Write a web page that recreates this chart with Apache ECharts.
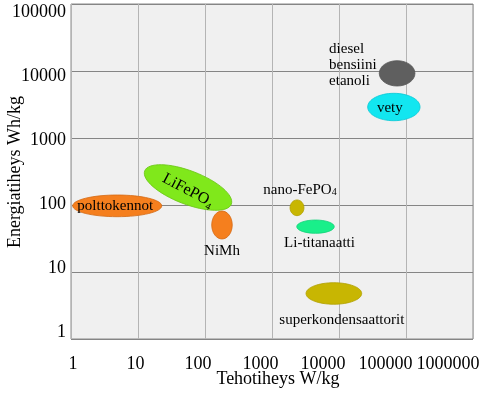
<!DOCTYPE html>
<html>
<head>
<meta charset="utf-8">
<script src="https://cdn.jsdelivr.net/npm/echarts@6/dist/echarts.min.js"></script>
<style>html,body{margin:0;padding:0;background:#fff;}#c{width:480px;height:396px;}</style>
</head>
<body>
<div id="c"></div>
<script>
// ---- data ----
const names = ['polttokennot', 'LiFePO4', 'NiMh', 'nano-FePO4', 'Li-titanaatti', 'superkondensaattorit', 'diesel\nbensiini\netanoli', 'vety'];
const powerLow  = [1.06, 12.6, 126, 1860, 2340, 3220, 39900, 26800];   // W/kg
const powerHigh = [22.6, 247, 255, 3000, 8500, 21800, 136000, 162000];
const energyLow  = [66.9, 103, 31.1, 69.3, 37.8, 3.3, 5970, 1812];    // Wh/kg
const energyHigh = [141, 323, 81.3, 119, 59.7, 6.92, 14250, 4645];
const xTickLabels = ['1', '10', '100', '1000', '10000', '100000', '1000000'];
const yTickLabels = ['1', '10', '100', '1000', '10000', '100000'];

// ---- styles ----
const FONT = "'Liberation Serif','Times New Roman',serif";
const styles = [
  {fill: '#f57f1e', stroke: '#d46812', label: '{n|polttokennot}', dx: -2, dy: 0},
  {fill: '#80e81b', stroke: '#6cc817', label: '{b|LiFePO}{s|4}', dx: 0, dy: 3, diag: true, ratio: 0.36, textRot: 28},
  {fill: '#f57f1e', stroke: '#d46812', label: '{n|NiMh}', dx: 0, dy: 26},
  {fill: '#c8b602', stroke: '#b0a000', label: '{n|nano-FePO}{s|4}', dx: 3, dy: -18},
  {fill: '#19ef8a', stroke: '#12d078', label: '{n|Li-titanaatti}', dx: 4, dy: 16},
  {fill: '#c8b602', stroke: '#b0a000', label: '{n|superkondensaattorit}', dx: 8, dy: 27},
  {fill: '#5f5f5f', stroke: '#555555', label: '{n|diesel}\n{n|bensiini}\n{n|etanoli}', dx: -68, dy: -8, align: 'left'},
  {fill: '#12e6f0', stroke: '#0cc8d4', label: '{n|vety}', dx: -4, dy: 1}
];

const seriesData = names.map((n, i) => [powerLow[i], powerHigh[i], energyLow[i], energyHigh[i]]);

function renderItem(params, api) {
  const i = params.dataIndex;
  const st = styles[i];
  const xl = api.value(0), xh = api.value(1), yl = api.value(2), yh = api.value(3);
  let cx, cy, rx, ry, rot = 0;
  if (st.diag) {
    const A = api.coord([xl, yh]);
    const B = api.coord([xh, yl]);
    cx = (A[0] + B[0]) / 2; cy = (A[1] + B[1]) / 2;
    const dx = B[0] - A[0], dy = B[1] - A[1];
    rx = Math.sqrt(dx * dx + dy * dy) / 2;
    ry = rx * st.ratio;
    rot = -Math.atan2(dy, dx);
  } else {
    const P1 = api.coord([xl, yl]);
    const P2 = api.coord([xh, yh]);
    cx = (P1[0] + P2[0]) / 2; cy = (P1[1] + P2[1]) / 2;
    rx = Math.abs(P2[0] - P1[0]) / 2;
    ry = Math.abs(P1[1] - P2[1]) / 2;
  }
  return {
    type: 'group',
    children: [
      {
        type: 'ellipse',
        x: cx, y: cy, rotation: rot,
        shape: {cx: 0, cy: 0, rx: rx, ry: ry},
        style: {fill: st.fill, stroke: st.stroke, lineWidth: 0.8}
      },
      {
        type: 'text',
        x: cx + st.dx, y: cy + st.dy,
        rotation: st.textRot ? -st.textRot * Math.PI / 180 : 0,
        style: {
          text: st.label,
          align: st.align || 'center',
          verticalAlign: 'middle',
          fill: '#000',
          rich: {
            n: {fontSize: 15, fontFamily: FONT, color: '#111', lineHeight: 16},
            b: {fontSize: 16, fontFamily: FONT, color: '#111', lineHeight: 20},
            s: {fontSize: 10, fontFamily: FONT, color: '#111', lineHeight: 12, verticalAlign: 'bottom'}
          }
        }
      }
    ]
  };
}

const chart = echarts.init(document.getElementById('c'), null, {renderer: 'canvas'});
chart.setOption({
  animation: false,
  backgroundColor: '#ffffff',
  grid: [
    {left: 71, right: 7, top: 4, bottom: 57, show: true, backgroundColor: '#f0f0f0', borderColor: '#8a8a8a', borderWidth: 1, outerBoundsMode: 'none', containLabel: false},
    {left: 73, width: 375, top: 4, bottom: 57, outerBoundsMode: 'none', containLabel: false},
    {left: 71, right: 7, top: 12, bottom: 64, outerBoundsMode: 'none', containLabel: false}
  ],
  xAxis: [
    {
      type: 'log', logBase: 10, min: 1, max: 1000000, gridIndex: 0,
      axisLine: {show: false}, axisTick: {show: false}, axisLabel: {show: false},
      splitLine: {show: true, lineStyle: {color: '#b4b4b4', width: 1}}
    },
    {
      type: 'log', logBase: 10, min: 1, max: 1000000, gridIndex: 1,
      axisLine: {show: false}, axisTick: {show: false}, splitLine: {show: false},
      axisLabel: {
        show: true, margin: 16, color: '#000', fontSize: 18, fontFamily: FONT,
        formatter: v => xTickLabels[Math.round(Math.log10(v))]
      },
      name: 'Tehotiheys W/kg', nameLocation: 'middle', nameGap: 31, nameMoveOverlap: false,
      nameTextStyle: {color: '#000', fontSize: 18, fontFamily: FONT, padding: [0, 0, 0, 35]}
    },
    {type: 'log', min: 1, max: 1000000, gridIndex: 2, show: false}
  ],
  yAxis: [
    {
      type: 'log', logBase: 10, min: 1, max: 100000, gridIndex: 0,
      axisLine: {show: false}, axisTick: {show: false}, axisLabel: {show: false},
      splitLine: {show: true, lineStyle: {color: '#858585', width: 1}}
    },
    {type: 'log', min: 1, max: 100000, gridIndex: 1, show: false},
    {
      type: 'log', logBase: 10, min: 1, max: 100000, gridIndex: 2,
      axisLine: {show: false}, axisTick: {show: false}, splitLine: {show: false},
      axisLabel: {
        show: true, margin: 5, color: '#000', fontSize: 18, fontFamily: FONT,
        formatter: v => yTickLabels[Math.round(Math.log10(v))]
      },
      name: 'Energiatiheys Wh/kg', nameLocation: 'middle', nameGap: 47, nameMoveOverlap: false,
      nameTextStyle: {color: '#000', fontSize: 18, fontFamily: FONT}
    }
  ],
  series: [{
    type: 'custom',
    xAxisIndex: 0, yAxisIndex: 0,
    renderItem: renderItem,
    data: seriesData,
    encode: {x: [0, 1], y: [2, 3]},
    clip: false
  }]
});
</script>
</body>
</html>
